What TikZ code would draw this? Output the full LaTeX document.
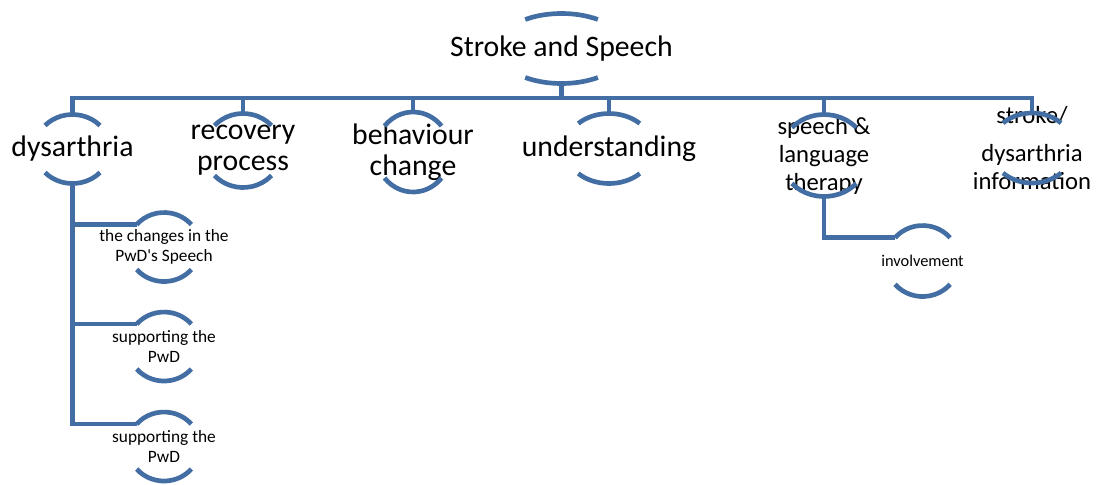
\documentclass[tikz,border=0pt]{standalone}
\usepackage{fontspec}
\setmainfont{Carlito}[Ligatures=TeXOff]
\usetikzlibrary{calc}

\definecolor{lineblue}{RGB}{67,110,163}

\tikzset{
    ring/.style={draw=lineblue,line width=3.5pt},
    link/.style={draw=lineblue,line width=3.5pt},
    big/.style={font=\fontsize{22.3}{23.5}\selectfont,align=center,inner sep=0pt},
    mid/.style={font=\fontsize{18.5}{21}\selectfont,align=center,inner sep=0pt},
    small/.style={font=\fontsize{13}{14.6}\selectfont,align=center,inner sep=0pt}
}

% top and bottom arcs round a node: name, x radius, y radius, angle
\newcommand\ringpair[4]{%
    \coordinate (#1-top) at ($(#1.center)+(0,-#3)$);
    \coordinate (#1-bot) at ($(#1.center)+(0,#3)$);
    \coordinate (#1-tl) at ($(#1.center)+(180+#4:#2 and #3)$);
    \coordinate (#1-bl) at ($(#1.center)+(180-#4:#2 and #3)$);
    \draw[ring] (#1-tl) arc[start angle=180+#4,end angle=360-#4,x radius=#2,y radius=#3];
    \draw[ring] (#1-bl) arc[start angle=180-#4,end angle=#4,x radius=#2,y radius=#3];
}

\begin{document}
\begin{tikzpicture}[x=1pt,y=1pt,scale=0.75,yscale=-1]
    \useasboundingbox (0,0) rectangle (1103,485);

    \node[big] (root) at (561.5,48.5) {Stroke and Speech};
    \node[big] (dys) at (72.5,149) {dysarthria};
    \node[big] (rec) at (243,150.5) {recovery\\process};
    \node[big] (beh) at (413,152) {behaviour\\change};
    \node[big] (und) at (609,148.5) {understanding};
    \node[mid] (slt) at (824,155.5) {speech \&\\language\\therapy};
    \node[mid] (inf) at (1032,148) {stroke/\\[7pt]dysarthria\\information};

    \node[small] (chg) at (164,247) {the changes in the\\PwD's Speech};
    \node[small] (sup1) at (164,346.5) {supporting the\\PwD};
    \node[small] (sup2) at (164,446.5) {supporting the\\PwD};
    \node[small,font=\fontsize{12.3}{14}\selectfont] (inv) at (922.5,261) {involvement};

    \ringpair{root}{65}{35}{56}
    \ringpair{dys}{37.6}{34.5}{43}
    \ringpair{rec}{38.7}{37}{42.5}
    \ringpair{beh}{37.5}{40}{40.5}
    \ringpair{und}{44}{35}{45.6}
    \ringpair{slt}{44}{41}{43}
    \ringpair{inf}{41.5}{35}{45.6}
    \foreach \n in {chg,sup1,sup2}
        \ringpair{\n}{36}{34.5}{40.7};
    \ringpair{inv}{36.5}{35.5}{41}

    \coordinate (bus) at (561.5,98);
    \foreach \n in {dys,rec,beh,und,slt,inf}
        \draw[link] (root-bot) |- (bus) -| (\n-top);
    \foreach \n in {chg,sup1,sup2}
        \draw[link] (dys-bot) |- (\n-tl);
    \draw[link] (slt-bot) |- (inv-tl);
\end{tikzpicture}
\end{document}
